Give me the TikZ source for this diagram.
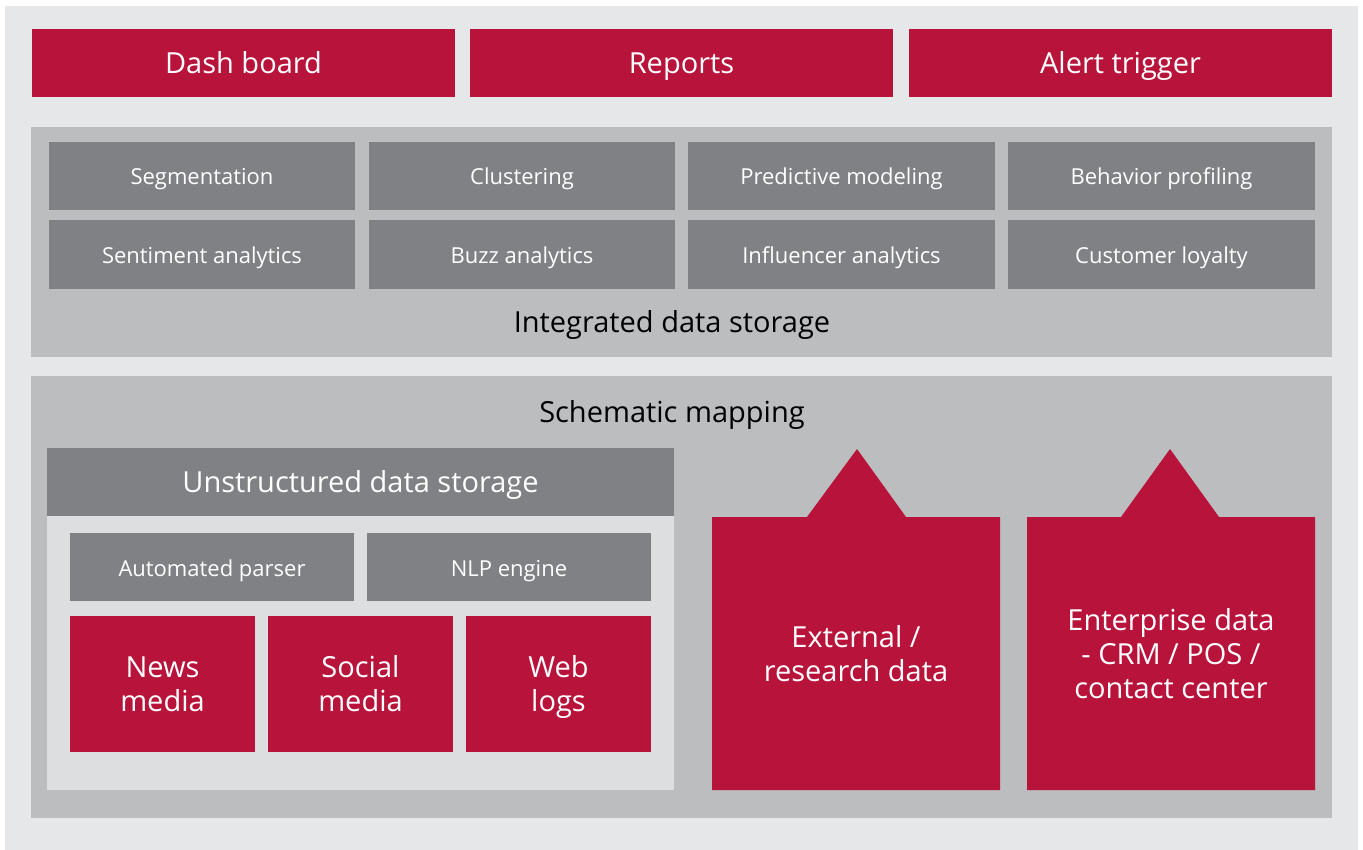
\documentclass[tikz,border=0pt]{standalone}
\usepackage{fontspec}
\setmainfont{Open Sans}
\definecolor{brandred}{HTML}{B8133A}
\definecolor{tilegray}{HTML}{808184}
\definecolor{panelgray}{HTML}{BCBDBF}
\definecolor{pagegray}{HTML}{E6E7E8}
\definecolor{innergray}{HTML}{DDDEE0}
\begin{document}
\begin{tikzpicture}[x=1pt,y=-1pt,
  bigtext/.style={font=\fontsize{29}{34}\selectfont,text height=27pt,text depth=6pt},
  smalltext/.style={font=\fontsize{22}{26}\selectfont,text height=23pt,text depth=5pt},
  twolines/.style={text height=61pt},
  threelines/.style={text height=95pt},
  redbox/.style={fill=brandred,text=white,bigtext,align=center},
  graybox/.style={fill=tilegray,text=white,smalltext,align=center},
  panel/.style={fill=panelgray},
  caption/.style={text=black,font=\fontsize{29}{34}\selectfont,anchor=base}]
% page
\useasboundingbox (0,0) rectangle (1363,850);
\fill[white] (0,0) rectangle (1363,850);
\fill[pagegray] (5,6) rectangle (1358,850);

% output layer
\path[redbox] (32,29) rectangle (455,97) node[midway] (dash) {Dash board};
\path[redbox] (470,29) rectangle (893,97) node[midway] (reports) {Reports};
\path[redbox] (909,29) rectangle (1332,97) node[midway] (alert) {Alert trigger};

% integrated data storage
\fill[panel] (31,127) rectangle (1332,357);
\path[graybox] (49,142) rectangle (355,210) node[midway] (seg) {Segmentation};
\path[graybox] (369,142) rectangle (675,210) node[midway] (clu) {Clustering};
\path[graybox] (688,142) rectangle (995,210) node[midway] (pred) {Predictive modeling};
\path[graybox] (1008,142) rectangle (1315,210) node[midway] (beh) {Behavior profiling};
\path[graybox] (49,220) rectangle (355,289) node[midway] (sent) {Sentiment analytics};
\path[graybox] (369,220) rectangle (675,289) node[midway] (buzz) {Buzz analytics};
\path[graybox] (688,220) rectangle (995,289) node[midway] (infl) {Influencer analytics};
\path[graybox] (1008,220) rectangle (1315,289) node[midway] (loy) {Customer loyalty};
\node[caption] (ids) at (672,333) {Integrated data storage};

% schematic mapping
\fill[panel] (31,376) rectangle (1332,818);
\node[caption] (sm) at (672,422) {Schematic mapping};

% unstructured data storage
\fill[innergray] (47,448) rectangle (674,790);
\path[fill=tilegray,text=white,bigtext] (47,448) rectangle (674,516) node[midway] (uds) {Unstructured data storage};
\path[graybox] (70,533) rectangle (354,601) node[midway] (parser) {Automated parser};
\path[graybox] (367,533) rectangle (651,601) node[midway] (nlp) {NLP engine};
\path[redbox] (70,616) rectangle (255,752) node[midway,twolines] (news) {News\\media};
\path[redbox] (268,616) rectangle (453,752) node[midway,twolines] (social) {Social\\media};
\path[redbox] (466,616) rectangle (651,752) node[midway,twolines] (web) {Web\\logs};

% structured sources with upward pointers
\fill[brandred] (712,517) -- (807,517) -- (857,449) -- (906,517) -- (1000,517)
  -- (1000,790) -- (712,790) -- cycle;
\node[redbox,fill=none,twolines] (ext) at (856,654) {External /\\research data};
\fill[brandred] (1027,517) -- (1121,517) -- (1170,449) -- (1219,517) -- (1315,517)
  -- (1315,790) -- (1027,790) -- cycle;
\node[redbox,fill=none,threelines] (ent) at (1171,654) {Enterprise data\\- CRM / POS /\\contact center};
\end{tikzpicture}
\end{document}
